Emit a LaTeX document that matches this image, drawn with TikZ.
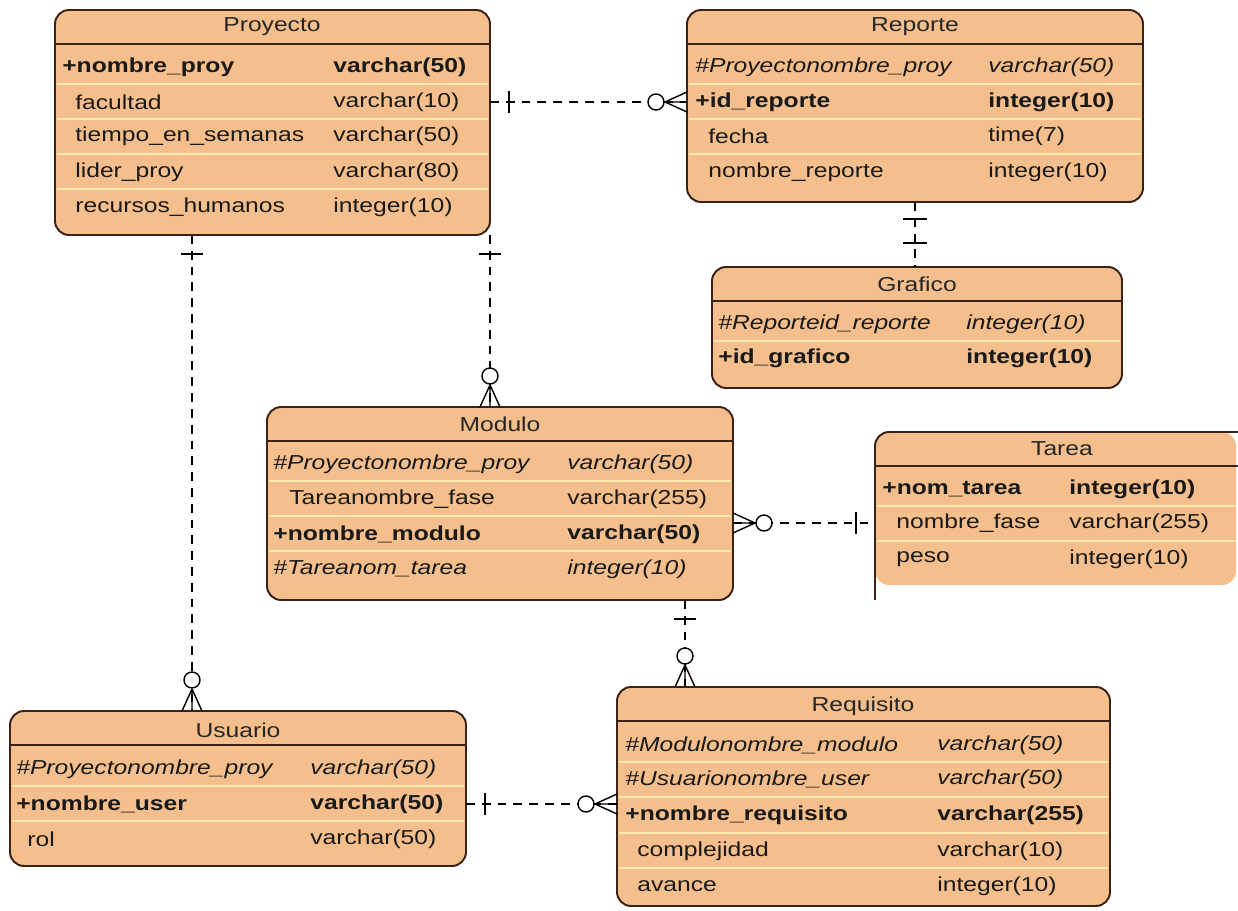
\documentclass[tikz,border=0pt]{standalone}
\usepackage{fontspec}
\setmainfont[FakeStretch=1.22]{Liberation Sans}
\usetikzlibrary{calc}

\definecolor{naranja}{RGB}{244,191,140}
\definecolor{borde}{RGB}{58,34,24}
\definecolor{raya}{RGB}{255,236,172}

\begin{document}
\begin{tikzpicture}[x=0.02cm, y=-0.02cm, line join=round]
    \tikzset{%
      tabla/.style 2 args = {draw=borde, line width=1.1pt, fill=naranja,
                             rounded corners=8pt, anchor=north west,
                             inner sep=0pt, outer sep=0pt,
                             minimum width={#1*0.02cm}, minimum height={#2*0.02cm}},
      linea/.style  = {draw=borde, line width=1.1pt},
      titulo/.style = {inner sep=0pt, text=black!85, font=\fontsize{11.5}{13}\selectfont},
      fila/.style   = {anchor=west, inner sep=0pt, text=black!90, font=\fontsize{11.5}{13}\selectfont},
      sep/.style    = {draw=raya, line width=1.2pt},
      rel/.style    = {draw=black, line width=0.8pt, dash pattern=on 5pt off 4pt},
      uno/.pic      = {\draw[line width=0.8pt] (19,-11) -- (19,11);},
      dos/.pic      = {\draw[line width=0.8pt] (17,-12) -- (17,12) (41,-12) -- (41,12);},
      muchos/.pic   = {\draw[line width=0.8pt] (22,0) -- (0,-10) (22,0) -- (0,0) (22,0) -- (0,10);
                       \draw[line width=0.8pt, fill=white] (31,0) circle[radius=8];}
    }

    \fill[white] (0,0) rectangle (1238,911);
    \useasboundingbox (0,0) rectangle (1238,911);

    % Proyecto
    \node[tabla={435}{225}] (proy) at (55,10) {};
    \draw[linea] (proy.north west) ++(0,34) -- ++(435,0);
    \foreach \y in {84,119,154,189} \draw[sep] (57,\y) -- (488,\y);
    \node[titulo] (proy-t) at (272,27) {Proyecto};
    \foreach \i/\y/\x/\nom/\tip/\f in {%
        1/67/62/+nombre\_proy/varchar(50)/\bfseries,
        2/102/75/facultad/varchar(10)/\upshape,
        3/136/75/tiempo\_en\_semanas/varchar(50)/\upshape,
        4/172/75/lider\_proy/varchar(80)/\upshape,
        5/207/75/recursos\_humanos/integer(10)/\upshape%
    }{
      \node[fila] (proy-n\i) at (\x,\y) {\f\nom};
      \node[fila] (proy-c\i) at (333,\y) {\f\tip};
    }

    % Reporte
    \node[tabla={456}{192}] (rep) at (687,10) {};
    \draw[linea] (rep.north west) ++(0,34) -- ++(456,0);
    \foreach \y in {84,119,154} \draw[sep] (689,\y) -- (1141,\y);
    \node[titulo] (rep-t) at (915,27) {Reporte};
    \foreach \i/\y/\x/\nom/\tip/\f in {%
        1/67/695/\#Proyectonombre\_proy/varchar(50)/\itshape,
        2/102/695/+id\_reporte/integer(10)/\bfseries,
        3/136/708/fecha/time(7)/\upshape,
        4/172/708/nombre\_reporte/integer(10)/\upshape%
    }{
      \node[fila] (rep-n\i) at (\x,\y) {\f\nom};
      \node[fila] (rep-c\i) at (988,\y) {\f\tip};
    }

    % Grafico
    \node[tabla={410}{121}] (graf) at (712,267) {};
    \draw[linea] (graf.north west) ++(0,34) -- ++(410,0);
    \draw[sep] (714,341) -- (1120,341);
    \node[titulo] (graf-t) at (917,284) {Grafico};
    \foreach \i/\y/\nom/\tip/\f in {%
        1/324/\#Reporteid\_reporte/integer(10)/\itshape,
        2/358/+id\_grafico/integer(10)/\bfseries%
    }{
      \node[fila] (graf-n\i) at (718,\y) {\f\nom};
      \node[fila] (graf-c\i) at (966,\y) {\f\tip};
    }

    % Modulo
    \node[tabla={466}{193}] (mod) at (267,407) {};
    \draw[linea] (mod.north west) ++(0,34) -- ++(466,0);
    \foreach \y in {481,516,551} \draw[sep] (269,\y) -- (731,\y);
    \node[titulo] (mod-t) at (500,424) {Modulo};
    \foreach \i/\y/\x/\nom/\tip/\f in {%
        1/464/273/\#Proyectonombre\_proy/varchar(50)/\itshape,
        2/499/289/Tareanombre\_fase/varchar(255)/\upshape,
        3/534/273/+nombre\_modulo/varchar(50)/\bfseries,
        4/569/273/\#Tareanom\_tarea/integer(10)/\itshape%
    }{
      \node[fila] (mod-n\i) at (\x,\y) {\f\nom};
      \node[fila] (mod-c\i) at (567,\y) {\f\tip};
    }

    % Tarea (cortada a la derecha)
    \node[tabla={361}{153}, draw=none] (tarea) at (875,432) {};
    \draw[linea, rounded corners=8pt] (875,600) -- (tarea.north west) -- (1238,432);
    \draw[linea] (tarea.north west) ++(0,34) -- (1238,466);
    \foreach \y in {506,541} \draw[sep] (877,\y) -- (1236,\y);
    \node[titulo] (tarea-t) at (1062,449) {Tarea};
    \foreach \i/\y/\x/\nom/\tip/\f in {%
        1/489/882/+nom\_tarea/integer(10)/\bfseries,
        2/523/896/nombre\_fase/varchar(255)/\upshape,
        3/559/896/peso/integer(10)/\upshape%
    }{
      \node[fila] (tarea-n\i) at (\x,\y) {\f\nom};
      \node[fila] (tarea-c\i) at (1069,\y) {\f\tip};
    }

    % Usuario
    \node[tabla={456}{155}] (usu) at (10,711) {};
    \draw[linea] (usu.north west) ++(0,34) -- ++(456,0);
    \foreach \y in {786,821} \draw[sep] (12,\y) -- (464,\y);
    \node[titulo] (usu-t) at (238,730) {Usuario};
    \foreach \i/\y/\x/\nom/\tip/\f in {%
        1/769/16/\#Proyectonombre\_proy/varchar(50)/\itshape,
        2/804/16/+nombre\_user/varchar(50)/\bfseries,
        3/839/27/rol/varchar(50)/\upshape%
    }{
      \node[fila] (usu-n\i) at (\x,\y) {\f\nom};
      \node[fila] (usu-c\i) at (310,\y) {\f\tip};
    }

    % Requisito
    \node[tabla={493}{219}] (req) at (617,687) {};
    \draw[linea] (req.north west) ++(0,34) -- ++(493,0);
    \foreach \y in {762,797,833,868} \draw[sep] (619,\y) -- (1108,\y);
    \node[titulo] (req-t) at (863,706) {Requisito};
    \foreach \i/\y/\x/\nom/\tip/\f in {%
        1/745/625/\#Modulonombre\_modulo/varchar(50)/\itshape,
        2/779/625/\#Usuarionombre\_user/varchar(50)/\itshape,
        3/815/625/+nombre\_requisito/varchar(255)/\bfseries,
        4/851/637/complejidad/varchar(10)/\upshape,
        5/886/637/avance/integer(10)/\upshape%
    }{
      \node[fila] (req-n\i) at (\x,\y) {\f\nom};
      \node[fila] (req-c\i) at (937,\y) {\f\tip};
    }

    % relaciones
    \coordinate (pu) at ($(proy.south west)+(137,0)$);
    \coordinate (mr) at ($(mod.south east)+(-48,0)$);

    \draw[rel] (proy.east |- proy-n2) -- (rep.west |- proy-n2);
    \draw[rel] (rep.south) -- (rep.south |- graf.north);
    \draw[rel] (proy.south east) -- (proy.south east |- mod.north);
    \draw[rel] (pu) -- (pu |- usu.north);
    \draw[rel] (mod.east |- tarea-n2) -- (tarea.west |- tarea-n2);
    \draw[rel] (mr) -- (mr |- req.north);
    \draw[rel] (usu.east |- usu-n2) -- (req.west |- usu-n2);

    \pic[rotate=0]   at (proy.east |- proy-n2) {uno};
    \pic[rotate=180] at (rep.west |- proy-n2) {muchos};
    \pic[rotate=-90] at (rep.south) {dos};
    \pic[rotate=-90] at (proy.south east) {uno};
    \pic[rotate=90]  at (proy.south east |- mod.north) {muchos};
    \pic[rotate=-90] at (pu) {uno};
    \pic[rotate=90]  at (pu |- usu.north) {muchos};
    \pic[rotate=0]   at (mod.east |- tarea-n2) {muchos};
    \pic[rotate=180] at (tarea.west |- tarea-n2) {uno};
    \pic[rotate=-90] at (mr) {uno};
    \pic[rotate=90]  at (mr |- req.north) {muchos};
    \pic[rotate=0]   at (usu.east |- usu-n2) {uno};
    \pic[rotate=180] at (req.west |- usu-n2) {muchos};
\end{tikzpicture}
\end{document}
